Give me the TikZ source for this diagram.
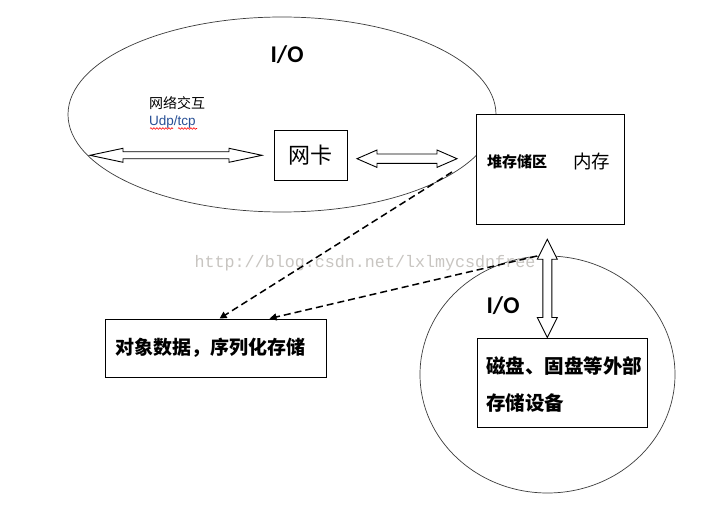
\documentclass[tikz,border=0pt]{standalone}
\usepackage{fontspec}
\setmainfont{Liberation Sans}
\newfontfamily\cjk{Noto Sans CJK SC}
\newfontfamily\wmfont{Liberation Mono}
\newfontfamily\iofont{Carlito}
\usetikzlibrary{calc,arrows.meta,decorations.pathmorphing}
\definecolor{udpblue}{RGB}{40,80,150}
\definecolor{wmgray}{RGB}{200,197,193}
\definecolor{ellgray}{RGB}{60,60,60}
\newcommand{\hollowH}[5]{%
  \draw[boxline,fill=white] (#1) -- ($(#1)+(#5,#4)$) -- ($(#1)+(#5,#3)$) -- ($(#2)+(-#5,#3)$) -- ($(#2)+(-#5,#4)$) -- (#2)
    -- ($(#2)+(-#5,-#4)$) -- ($(#2)+(-#5,-#3)$) -- ($(#1)+(#5,-#3)$) -- ($(#1)+(#5,-#4)$) -- cycle;}
\newcommand{\hollowV}[5]{%
  \draw[boxline,fill=white] (#1) -- ($(#1)+(#4,#5)$) -- ($(#1)+(#3,#5)$) -- ($(#2)+(#3,-#5)$) -- ($(#2)+(#4,-#5)$) -- (#2)
    -- ($(#2)+(-#4,-#5)$) -- ($(#2)+(-#3,-#5)$) -- ($(#1)+(-#3,#5)$) -- ($(#1)+(-#4,#5)$) -- cycle;}
\begin{document}
\begin{tikzpicture}[x=1pt,y=-1pt,
  boxline/.style={draw=black,line width=0.9pt},
  ell/.style={draw=ellgray,line width=0.7pt},
  box/.style={boxline,fill=white,rectangle,inner sep=0pt},
  io/.style={font=\iofont\bfseries\fontsize{24}{24}\selectfont},
  dasharrow/.style={draw=black,line width=1.5pt,dash pattern=on 7pt off 4pt,-{Triangle[length=7pt,width=7pt]}},
  wavy/.style={draw=red,line width=0.6pt,decorate,decoration={snake,amplitude=0.8pt,segment length=3pt}}
]
\useasboundingbox (0,0) rectangle (710,505);
\fill[white] (0,0) rectangle (710,505);

% top ellipse (network I/O)
\draw[ell] (282,114.5) ellipse [x radius=214, y radius=97.5];
\node[io] (io1) at (287,55) {I/O};
\node[font=\cjk\fontsize{14}{14}\selectfont,anchor=west,inner sep=0pt] (net) at (149,103) {网络交互};
\node[font=\fontsize{13.5}{13.5}\selectfont,text=udpblue,anchor=west,inner sep=0pt] (udp) at (149,122) {Udp/tcp};
\draw[wavy] (150,128.5) -- (173,128.5);
\draw[wavy] (178,128.5) -- (197,128.5);

% NIC box
\node[box,minimum width=73,minimum height=50,font=\cjk\fontsize{22}{22}\selectfont] (nic) at (310.5,155) {网卡};

% memory box
\node[box,minimum width=148,minimum height=110] (mem) at (550,169) {};
\node[font=\cjk\bfseries\fontsize{15}{15}\selectfont,anchor=west,inner sep=0pt] (heap) at (487,162) {堆存储区};
\node[font=\cjk\fontsize{18.5}{18.5}\selectfont,anchor=west,inner sep=0pt] (ram) at (573,161) {内存};

% hollow arrows near the NIC
\coordinate (la) at (90,155.3);
\coordinate (lb) at (262,155.3);
\hollowH{la}{lb}{3.5}{7}{33}
\coordinate (ra) at (357,158.7);
\coordinate (rb) at (457,158.7);
\hollowH{ra}{rb}{4.7}{8.7}{20}

% bottom circle (disk I/O)
\draw[ell] (547.5,374.5) ellipse [x radius=127.5, y radius=118.5];
\node[io] (io2) at (503,306) {I/O};

% storage box
\node[box,minimum width=170,minimum height=89] (disk) at (562,382.5) {};
\node[font=\cjk\bfseries\fontsize{19.5}{19.5}\selectfont,anchor=west,inner sep=0pt] (disk1) at (486,366) {磁盘、固盘等外部};
\node[font=\cjk\bfseries\fontsize{19.5}{19.5}\selectfont,anchor=west,inner sep=0pt] (disk2) at (486,403) {存储设备};

% vertical hollow arrow between memory and storage
\coordinate (va) at (547.3,239.3);
\coordinate (vb) at (547.3,337.5);
\hollowV{va}{vb}{4.5}{10}{20}

% object box
\node[box,minimum width=221,minimum height=58,font=\cjk\bfseries\fontsize{19}{19}\selectfont] (obj) at (215.5,348) {\hspace{-10pt}对象数据，序列化存储};

% watermark
\node[font=\wmfont\fontsize{16.7}{16.7}\selectfont,text=wmgray,inner sep=0pt] (wm) at (365,263) {http://blog.csdn.net/lxlmycsdnfree};

% dashed arrows
\coordinate (d1s) at (452,172);
\coordinate (d1e) at ($(obj.north west)+(115,0)$);
\coordinate (d2s) at (537,256);
\coordinate (d2e) at ($(obj.north west)+(165,0)$);
\draw[dasharrow] (d1s) -- (d1e);
\draw[dasharrow] (d2s) -- (d2e);
\end{tikzpicture}
\end{document}
